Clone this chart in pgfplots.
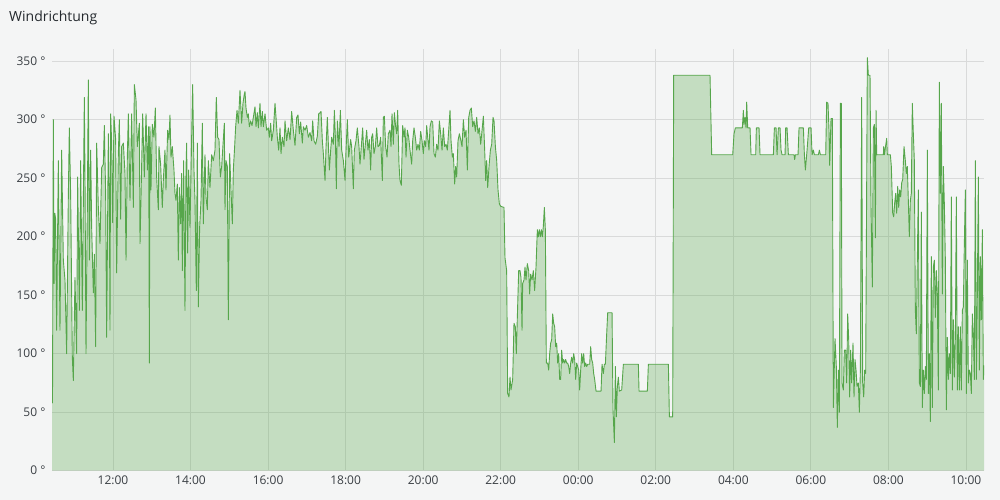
\documentclass[border=0pt]{standalone}
\usepackage{pgfplots}
\pgfplotsset{compat=1.18}
\usepackage{pgfplotstable}
\usepackage{fontspec}
\setmainfont{Open Sans}
\definecolor{bg}{HTML}{F4F5F5}
\definecolor{series}{HTML}{56A64B}
\definecolor{gridc}{HTML}{D9DADA}
\definecolor{txt}{HTML}{24292E}
\definecolor{ticktxt}{HTML}{3A3F44}
\pgfplotstableread{
t v
10.427 95
10.440 58
10.461 300
10.480 160
10.500 220
10.521 215
10.547 120
10.590 265
10.633 120
10.676 274
10.719 180
10.762 163
10.805 100
10.848 234
10.874 293
10.908 236
10.951 97
10.977 77
11.020 165
11.063 100
11.089 251
11.132 137
11.166 265
11.209 137
11.261 319
11.278 251
11.304 100
11.338 223
11.364 334
11.390 180
11.424 274
11.450 208
11.493 152
11.519 185
11.553 106
11.579 280
11.622 225
11.665 194
11.708 259
11.751 262
11.777 295
11.811 236
11.837 114
11.880 288
11.906 236
11.923 120
11.940 305
11.966 280
11.992 212
12.026 303
12.069 283
12.095 169
12.138 271
12.164 300
12.198 215
12.224 277
12.267 280
12.310 254
12.336 180
12.370 268
12.396 305
12.439 231
12.482 305
12.525 225
12.551 330
12.594 317
12.628 277
12.680 297
12.697 194
12.723 234
12.766 305
12.809 251
12.852 305
12.887 257
12.921 294
12.938 92
12.954 294
12.980 240
13.014 296
13.057 285
13.092 310
13.126 251
13.169 223
13.186 277
13.229 262
13.272 225
13.298 248
13.341 274
13.367 240
13.410 291
13.444 283
13.470 304
13.496 268
13.530 277
13.573 257
13.599 237
13.625 231
13.659 245
13.685 180
13.711 242
13.745 211
13.771 254
13.788 171
13.823 265
13.857 137
13.883 257
13.900 280
13.926 186
13.952 257
13.986 208
14.029 285
14.055 330
14.089 257
14.115 231
14.149 154
14.175 280
14.201 140
14.235 208
14.270 231
14.304 297
14.330 211
14.373 270
14.399 234
14.433 223
14.459 265
14.502 242
14.545 270
14.588 265
14.631 274
14.665 319
14.700 285
14.734 283
14.769 251
14.803 260
14.846 283
14.872 297
14.889 223
14.915 265
14.949 260
14.975 129
15.009 271
15.044 240
15.078 211
15.104 257
15.138 277
15.164 294
15.199 308
15.233 297
15.276 325
15.319 297
15.353 314
15.388 322
15.405 324
15.431 310
15.465 302
15.491 305
15.517 294
15.551 299
15.586 295
15.620 302
15.663 311
15.689 294
15.723 306
15.749 293
15.792 314
15.818 294
15.852 307
15.878 294
15.921 305
15.964 291
16.007 293
16.033 285
16.067 297
16.093 282
16.136 291
16.179 314
16.205 302
16.239 285
16.274 274
16.308 293
16.334 271
16.368 285
16.411 277
16.437 299
16.480 282
16.523 293
16.566 283
16.609 307
16.652 291
16.695 278
16.738 302
16.772 304
16.807 288
16.841 298
16.884 280
16.910 294
16.953 291
16.996 295
17.039 285
17.082 289
17.125 282
17.151 299
17.185 282
17.228 279
17.271 286
17.306 305
17.340 306
17.366 307
17.400 282
17.426 271
17.469 248
17.495 277
17.529 302
17.555 279
17.581 257
17.615 274
17.641 285
17.684 279
17.710 308
17.736 285
17.761 241
17.787 299
17.830 277
17.865 308
17.899 274
17.942 265
17.985 248
18.011 274
18.045 300
18.080 268
18.130 283
18.156 277
18.199 241
18.225 274
18.268 282
18.302 293
18.345 277
18.371 262
18.405 277
18.440 293
18.474 266
18.509 279
18.543 291
18.577 274
18.612 283
18.646 257
18.672 285
18.698 288
18.732 271
18.767 277
18.801 293
18.835 277
18.870 278
18.904 285
18.947 248
18.973 302
18.999 303
19.033 277
19.068 268
19.102 288
19.145 291
19.171 277
19.197 305
19.231 279
19.257 306
19.291 294
19.317 288
19.343 308
19.377 262
19.403 248
19.437 244
19.472 295
19.506 285
19.532 293
19.558 268
19.592 291
19.627 285
19.661 274
19.704 262
19.730 282
19.764 293
19.799 285
19.833 274
19.867 279
19.902 274
19.936 290
19.971 282
20.005 271
20.031 282
20.065 277
20.091 295
20.117 285
20.151 274
20.177 294
20.211 299
20.246 298
20.280 271
20.315 268
20.349 279
20.383 274
20.418 299
20.452 288
20.487 274
20.521 293
20.555 277
20.590 279
20.624 274
20.659 291
20.693 308
20.719 282
20.753 268
20.779 271
20.813 245
20.839 260
20.865 251
20.899 282
20.934 288
20.968 283
21.003 277
21.037 300
21.071 285
21.106 291
21.140 257
21.175 302
21.209 308
21.243 310
21.278 294
21.312 299
21.347 290
21.381 302
21.415 288
21.450 293
21.484 279
21.519 291
21.553 303
21.587 274
21.613 248
21.639 265
21.665 242
21.699 260
21.734 274
21.768 279
21.802 302
21.828 299
21.863 277
21.897 265
21.931 240
21.966 228
22.000 226
22.085 225
22.111 182
22.154 171
22.180 66
22.214 63
22.240 80
22.266 69
22.309 78
22.343 126
22.378 123
22.403 100
22.429 131
22.464 171
22.498 171
22.524 165
22.550 120
22.567 160
22.601 163
22.627 174
22.653 163
22.687 177
22.722 171
22.747 151
22.773 168
22.808 163
22.842 171
22.876 154
22.911 174
22.945 206
22.971 200
22.997 206
23.023 200
23.048 206
23.074 200
23.100 209
23.126 225
23.152 206
23.177 92
23.212 92
23.238 86
23.263 100
23.289 109
23.315 112
23.341 134
23.367 126
23.392 123
23.418 106
23.444 109
23.470 92
23.496 100
23.521 78
23.547 78
23.573 103
23.599 92
23.625 95
23.650 92
23.676 95
23.702 92
23.728 92
23.754 89
23.779 83
23.805 92
23.831 97
23.857 92
23.883 100
23.908 95
23.934 78
23.960 92
23.986 89
24.012 86
24.037 69
24.063 86
24.089 100
24.115 92
24.141 100
24.166 89
24.192 92
24.218 89
24.244 91
24.270 91
24.295 91
24.321 106
24.347 95
24.373 92
24.399 83
24.424 78
24.459 68
24.588 68
24.614 91
24.648 83
24.674 91
24.700 91
24.734 117
24.760 135
24.872 135
24.897 52
24.932 24
24.958 89
24.983 46
25.009 72
25.035 80
25.061 68
25.121 69
25.164 91
25.551 91
25.568 68
25.783 68
25.809 91
26.325 91
26.351 46
26.436 46
26.462 338
27.399 338
27.416 311
27.442 270
27.984 270
28.018 288
28.053 293
28.233 293
28.259 308
28.276 296
28.302 302
28.328 293
28.345 315
28.371 293
28.431 293
28.457 270
28.577 270
28.594 293
28.663 293
28.689 270
29.033 270
29.059 293
29.102 293
29.128 270
29.162 293
29.205 293
29.231 274
29.257 270
29.334 270
29.351 293
29.386 293
29.420 270
29.566 270
29.583 266
29.601 270
29.669 270
29.695 293
29.807 293
29.833 270
29.859 257
29.902 274
29.945 293
30.005 293
30.031 270
30.065 274
30.091 270
30.194 270
30.220 274
30.246 270
30.383 270
30.408 315
30.442 314
30.468 291
30.485 261
30.520 301
30.554 301
30.580 54
30.623 113
30.657 89
30.683 37
30.709 86
30.735 50
30.761 314
30.786 314
30.804 75
30.838 69
30.864 103
30.898 103
30.924 75
30.950 134
30.976 112
31.001 63
31.027 103
31.053 75
31.087 109
31.113 63
31.139 95
31.165 86
31.191 72
31.225 75
31.251 50
31.277 86
31.311 319
31.337 75
31.363 63
31.388 86
31.414 83
31.457 353
31.483 338
31.526 338
31.552 225
31.586 157
31.612 293
31.638 296
31.664 199
31.681 308
31.698 270
31.870 270
31.879 277
31.896 270
31.956 284
31.973 270
32.051 270
32.076 260
32.111 220
32.137 217
32.162 229
32.188 237
32.214 220
32.240 243
32.266 225
32.291 240
32.317 234
32.343 246
32.369 249
32.403 277
32.437 265
32.462 254
32.488 260
32.514 231
32.540 200
32.566 231
32.591 237
32.617 314
32.643 288
32.669 265
32.695 137
32.720 117
32.746 180
32.772 240
32.798 75
32.824 72
32.849 221
32.875 54
32.901 86
32.927 66
32.953 89
32.978 78
33.004 274
33.030 66
33.056 100
33.082 42
33.107 183
33.133 54
33.159 174
33.185 180
33.211 131
33.236 171
33.262 151
33.288 69
33.314 332
33.340 237
33.365 314
33.391 151
33.417 260
33.443 228
33.469 180
33.494 52
33.520 114
33.546 78
33.572 100
33.598 83
33.623 234
33.649 69
33.675 129
33.701 80
33.727 114
33.752 234
33.778 69
33.804 123
33.830 69
33.856 123
33.881 69
33.907 137
33.933 140
33.959 194
33.985 240
34.010 66
34.036 180
34.062 75
34.088 86
34.114 83
34.139 66
34.165 134
34.191 117
34.217 78
34.243 265
34.268 78
34.294 151
34.320 251
34.346 86
34.372 183
34.397 129
34.423 206
34.449 78
34.466 90
}\winddata

\begin{document}
\begin{tikzpicture}
\fill[bg] (0pt,0pt) rectangle (1000pt,500pt);
\node[anchor=base west, inner sep=0pt, text=txt, font=\fontsize{14}{16}\selectfont] at (9pt,478pt) {Windrichtung};
\begin{axis}[
  at={(52pt,29.3pt)}, anchor=south west,
  scale only axis, width=932pt, height=421.2pt,
  xmin=10.427, xmax=34.466, ymin=0, ymax=360,
  axis line style={draw=none},
  major tick length=0pt,
  tick style={draw=none},
  grid=major,
  major grid style={draw=gridc, line width=0.8pt},
  xtick={12,14,16,18,20,22,24,26,28,30,32,34},
  xticklabels={12:00,14:00,16:00,18:00,20:00,22:00,00:00,02:00,04:00,06:00,08:00,10:00},
  ytick={0,50,100,150,200,250,300,350},
  yticklabels={0 °,50 °,100 °,150 °,200 °,250 °,300 °,350 °},
  xticklabel style={font=\fontsize{12}{14}\selectfont, text=ticktxt, yshift=-2pt},
  yticklabel style={font=\fontsize{12}{14}\selectfont, text=ticktxt, anchor=east, xshift=-3pt},
  clip=true,
]
\addplot[draw=none, fill=series, fill opacity=0.3] table[x=t,y=v]{\winddata} \closedcycle;
\addplot[series, line width=0.9pt, line join=round, mark=none] table[x=t,y=v]{\winddata};
\end{axis}
\end{tikzpicture}
\end{document}
